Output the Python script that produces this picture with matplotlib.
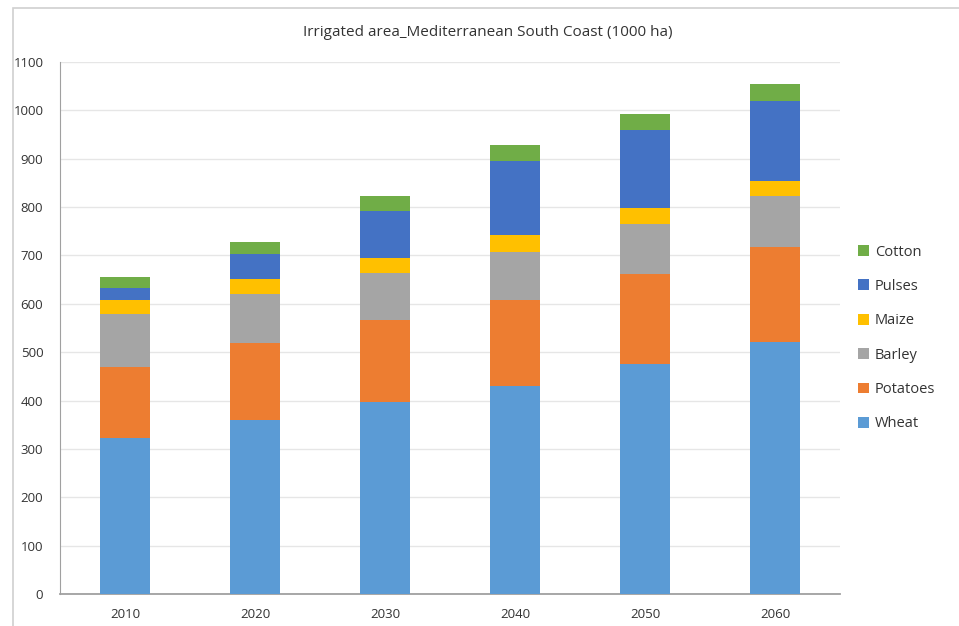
import matplotlib
matplotlib.use("Agg")
import matplotlib.pyplot as plt
from matplotlib.patches import Rectangle, Patch
import numpy as np
from matplotlib import font_manager

years = ["2010", "2020", "2030", "2040", "2050", "2060"]
wheat = [323, 360, 396, 431, 476, 522]
potatoes = [146, 158, 170, 177, 186, 195]
barley = [110, 103, 97, 100, 103, 105]
maize = [28, 31, 32, 34, 33, 31]
pulses = [25, 50, 97, 153, 161, 166]
cotton = [24, 25, 30, 33, 34, 35]

series_names = ["Wheat", "Potatoes", "Barley", "Maize", "Pulses", "Cotton"]
series_vals = [wheat, potatoes, barley, maize, pulses, cotton]
colors = ["#5B9BD5", "#ED7D31", "#A5A5A5", "#FFC000", "#4472C4", "#70AD47"]

avail = {f.name for f in font_manager.fontManager.ttflist}
fam = [f for f in ["Open Sans", "DejaVu Sans"] if f in avail]
plt.rcParams["font.family"] = fam

W, H = 959, 626
fig = plt.figure(figsize=(W / 100, H / 100), dpi=100)
fig.patch.set_facecolor("white")

# chart border (extends past right/bottom)
fig.patches.append(Rectangle((13 / W, -0.1), 1.2, (H - 8) / H + 0.1,
                             transform=fig.transFigure, fill=False,
                             edgecolor="#d0d0d0", linewidth=1.2))

ax = fig.add_axes([60 / W, (H - 594) / H, 780 / W, (594 - 62) / H])
x = np.arange(len(years))
bottom = np.zeros(len(years))
for name, vals, c in zip(series_names, series_vals, colors):
    ax.bar(x, vals, width=0.377, bottom=bottom, color=c, label=name, zorder=3)
    bottom += np.array(vals)

ax.set_xlim(-0.5, len(years) - 0.5)
ax.set_ylim(0, 1100)
ax.set_yticks(np.arange(0, 1101, 100))
ax.set_xticks(x)
ax.set_xticklabels(years)
ax.yaxis.grid(True, color="#e6e6e6", linewidth=1, zorder=0)
ax.tick_params(axis="both", length=0, labelsize=9.5, colors="#333333")
ax.tick_params(axis="y", pad=12)
ax.tick_params(axis="x", pad=10)
for s in ["top", "right"]:
    ax.spines[s].set_visible(False)
ax.spines["left"].set_color("#a0a0a0")
ax.spines["bottom"].set_color("#a0a0a0")
ax.spines["bottom"].set_linewidth(1.3)

fig.text(488 / W, 1 - 32 / H, "Irrigated area_Mediterranean South Coast (1000 ha)",
         ha="center", va="center", fontsize=11, color="#333333")

handles = [Patch(facecolor=c, label=n) for n, c in zip(series_names, colors)][::-1]
fig.legend(handles=handles, loc="center left",
           bbox_to_anchor=(845 / W, 1 - 338 / H), frameon=False,
           fontsize=10.5, handlelength=0.75, handleheight=0.75, handletextpad=0.4,
           labelspacing=1.33, labelcolor="#333333")

fig.savefig("out.png", dpi=100, facecolor="white")
